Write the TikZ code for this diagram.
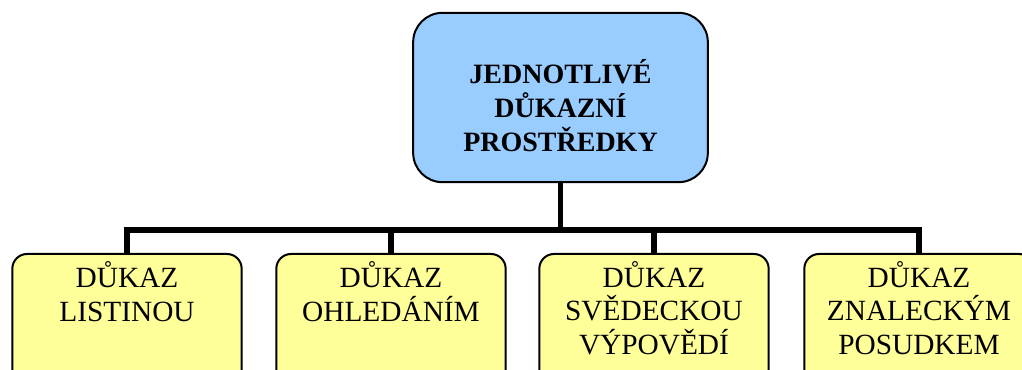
\documentclass[tikz,border=0pt]{standalone}
\usepackage{fontspec}
\setmainfont{Liberation Serif}
\begin{document}
\begin{tikzpicture}[x=0.75pt,y=-0.75pt,
  topbox/.style={draw=black,line width=1.5pt,fill={rgb,255:red,153;green,204;blue,255},rounded corners=22pt,minimum width=221pt,minimum height=127pt,inner sep=0pt},
  subbox/.style={draw=black,line width=1.5pt,fill={rgb,255:red,255;green,255;blue,153},rounded corners=11pt,minimum width=172pt,minimum height=105pt,inner sep=0pt,anchor=north},
  txt/.style={align=center,inner sep=0pt,anchor=base,font=\fontsize{22}{25.5}\selectfont},
  conn/.style={line width=3.8pt,draw=black,line join=miter}]
\useasboundingbox (0,0) rectangle (1022,370);
\node[topbox] (top) at (560.5,97.5) {};
\node[subbox] (b1) at (127,253) {};
\node[subbox] (b2) at (391,253) {};
\node[subbox] (b3) at (654,253) {};
\node[subbox] (b4) at (919,253) {};
\node[txt,font=\fontsize{21}{25.5}\selectfont\bfseries] (ttop) at (560.5,152) {JEDNOTLIVÉ\\DŮKAZNÍ\\PROSTŘEDKY};
\node[txt] (t1) at (127,322) {DŮKAZ\\LISTINOU};
\node[txt] (t2) at (391,322) {DŮKAZ\\OHLEDÁNÍM};
\node[txt] (t3) at (654,355) {DŮKAZ\\SVĚDECKOU\\VÝPOVĚDÍ};
\node[txt] (t4) at (919,355) {DŮKAZ\\ZNALECKÝM\\POSUDKEM};
\coordinate (bus) at (0,230);
\draw[conn] (top.south) -- (top.south |- bus);
\draw[conn] (b1.north) -- (b1.north |- bus) -- (b4.north |- bus) -- (b4.north);
\draw[conn] (b2.north) -- (b2.north |- bus);
\draw[conn] (b3.north) -- (b3.north |- bus);
\end{tikzpicture}
\end{document}
